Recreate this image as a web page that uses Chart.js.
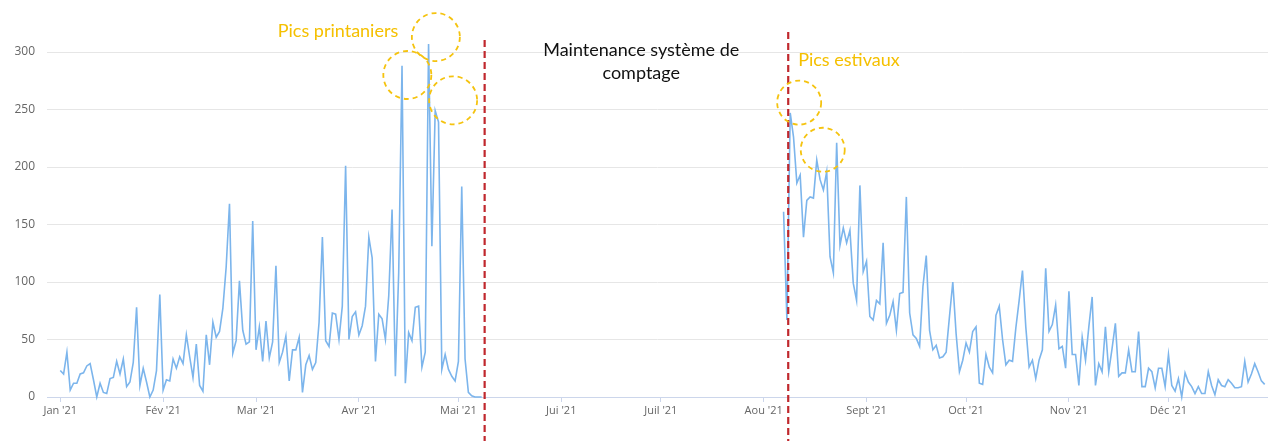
<!DOCTYPE html>
<html lang="fr">
<head>
<meta charset="utf-8">
<title>Comptage journalier 2021</title>
<script src="https://cdn.jsdelivr.net/npm/chart.js@4/dist/chart.umd.min.js"></script>
<style>
  html, body { margin: 0; padding: 0; background: #fff; }
  canvas { display: block; }
</style>
</head>
<body>
<canvas id="chart" width="1268" height="441"></canvas>
<script>
// day of year (0 = 1 Jan) where each month starts, and its axis label
const monthDays = [0, 31, 59, 90, 120, 151, 181, 212, 243, 273, 304, 334];
const monthLabels = ["Jan '21", "Fév '21", "Mar '21", "Avr '21", "Mai '21", "Jui '21",
  "Juil '21", "Aou '21", "Sept '21", "Oct '21", "Nov '21", "Déc '21"];

const yTicks = [0, 50, 100, 150, 200, 250, 300];

// daily counts, 1 Jan -> 8 May
const springStart = 0;
const springCounts = [
  23, 20, 39, 6, 12, 12, 20, 21, 27, 29, 15, 0, 12, 4, 3, 16, 17, 31, 20, 33,
  9, 13, 30, 78, 10, 25, 13, 0, 6, 23, 89, 6, 15, 14, 33, 25, 35, 29, 54, 35,
  17, 46, 10, 5, 54, 28, 65, 52, 57, 77, 113, 168, 38, 49, 101, 58, 46, 48, 153, 41,
  61, 31, 66, 34, 48, 114, 30, 39, 53, 14, 41, 41, 52, 4, 28, 36, 24, 30, 65, 139,
  49, 44, 73, 72, 50, 79, 201, 50, 70, 74, 54, 62, 79, 139, 121, 31, 72, 68, 50, 88,
  163, 18, 108, 288, 12, 56, 49, 78, 79, 26, 39, 307, 131, 249, 239, 24, 37, 24, 18, 14,
  31, 183, 33, 4, 1, 0, 0, 0
];

// daily counts, 7 Aug -> 30 Dec (after the counter maintenance)
const summerStart = 218;
const summerCounts = [
  161, 67, 247, 226, 186, 193, 139, 171, 174, 173, 206, 189, 180, 196, 122, 108, 221, 132, 147, 134,
  145, 99, 84, 184, 109, 118, 70, 67, 84, 81, 134, 64, 71, 83, 58, 90, 91, 174, 73, 54,
  51, 44, 96, 123, 58, 41, 45, 34, 35, 39, 70, 100, 55, 22, 32, 47, 39, 57, 61, 12,
  11, 37, 26, 21, 71, 79, 50, 28, 32, 31, 60, 84, 110, 61, 26, 32, 16, 32, 41, 112,
  57, 63, 80, 42, 44, 25, 92, 37, 37, 10, 52, 32, 61, 87, 10, 29, 22, 61, 22, 42,
  64, 18, 21, 21, 41, 22, 22, 57, 9, 9, 25, 22, 8, 25, 25, 9, 37, 10, 5, 16,
  0, 21, 13, 9, 3, 9, 3, 3, 22, 10, 2, 15, 10, 9, 15, 12, 8, 8, 9, 31,
  13, 20, 29, 22, 14, 11
];

const toPoints = (start, values) => values.map((v, i) => ({ x: start + i, y: v }));

const lineStyle = {
  borderColor: "#7cb5ec",
  borderWidth: 1.6,
  pointRadius: 0,
  tension: 0,
  clip: false,
};

// hand-drawn style notes on top of the chart
const notesPlugin = {
  id: "notes",
  afterDatasetsDraw(chart) {
    const { ctx, scales: { x, y } } = chart;
    const px = (d) => x.getPixelForValue(d);
    const py = (v) => y.getPixelForValue(v);
    ctx.save();

    // maintenance window boundaries
    ctx.strokeStyle = "#c0282d";
    ctx.lineWidth = 2.2;
    ctx.setLineDash([7, 4]);
    [[127.9, 40], [219.4, 32]].forEach(([d, top]) => {
      ctx.beginPath();
      ctx.moveTo(px(d), top);
      ctx.lineTo(px(d), chart.height);
      ctx.stroke();
    });

    // circles around the peaks
    ctx.strokeStyle = "#f5c30f";
    ctx.lineWidth = 1.8;
    ctx.setLineDash([5, 4]);
    [[113.2, 313, 24], [104.6, 280, 24], [118.4, 258, 24], [222.7, 256, 22], [229.8, 215, 22]]
      .forEach(([d, v, r]) => {
        ctx.beginPath();
        ctx.arc(px(d), py(v), r, 0, Math.PI * 2);
        ctx.stroke();
      });
    ctx.setLineDash([]);

    ctx.textAlign = "center";
    ctx.textBaseline = "middle";
    ctx.fillStyle = "#f5c000";
    ctx.font = "18px Lato, 'Open Sans', sans-serif";
    ctx.fillText("Pics printaniers", px(83.7), py(318.3));
    ctx.fillText("Pics estivaux", px(237.7), py(293));

    ctx.fillStyle = "#111";
    ctx.font = "18px Lato, 'Open Sans', sans-serif";
    ctx.fillText("Maintenance système de", px(175.1), py(301.7));
    ctx.fillText("comptage", px(175.1), py(281.7));
    ctx.restore();
  },
};

const ctx = document.getElementById("chart").getContext("2d");
new Chart(ctx, {
  type: "line",
  data: {
    datasets: [
      { label: "printemps", data: toPoints(springStart, springCounts), ...lineStyle },
      { label: "été", data: toPoints(summerStart, summerCounts), ...lineStyle },
    ],
  },
  options: {
    responsive: false,
    animation: false,
    layout: { padding: { top: 52, left: 0, right: 0, bottom: 0 } },
    plugins: {
      legend: { display: false },
      tooltip: { enabled: false },
    },
    scales: {
      x: {
        type: "linear",
        min: -4,
        max: 364,
        afterBuildTicks: (scale) => {
          scale.ticks = monthDays.map((d) => ({ value: d }));
        },
        afterFit: (scale) => { scale.height = 44; },
        grid: {
          drawOnChartArea: false,
          drawTicks: true,
          tickLength: 5,
          color: "#ccd6eb",
        },
        border: { color: "#ccd6eb" },
        ticks: {
          autoSkip: false,
          maxRotation: 0,
          padding: 2,
          color: "#666",
          font: { family: "'Open Sans', sans-serif", size: 11 },
          callback: (v) => monthLabels[monthDays.indexOf(v)],
        },
      },
      y: {
        min: 0,
        max: 300,
        afterBuildTicks: (scale) => {
          scale.ticks = yTicks.map((v) => ({ value: v }));
        },
        afterFit: (scale) => { scale.width = 47; },
        grid: { color: "#e6e6e6", drawTicks: false },
        border: { display: false },
        ticks: {
          padding: 12,
          color: "#666",
          font: { family: "'Open Sans', sans-serif", size: 12 },
        },
      },
    },
  },
  plugins: [notesPlugin],
});
</script>
</body>
</html>
